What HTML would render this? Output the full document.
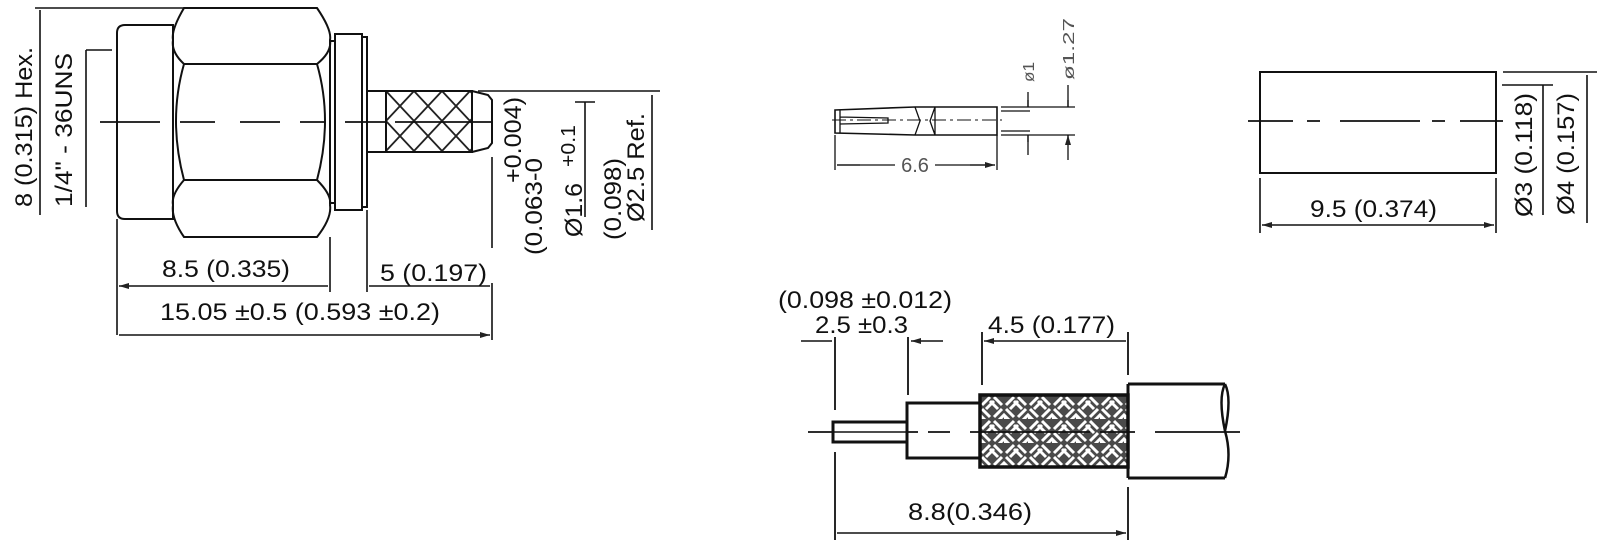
<!DOCTYPE html>
<html><head><meta charset="utf-8"><style>
html,body{margin:0;padding:0;background:#fff;}
svg{display:block;}
text{font-family:"Liberation Sans",sans-serif;fill:#111;}
</style></head><body>
<svg width="1600" height="552" viewBox="0 0 1600 552" xmlns="http://www.w3.org/2000/svg">
<defs>
<marker id="ar" viewBox="0 0 10 6" refX="10" refY="3" markerWidth="10" markerHeight="6" markerUnits="userSpaceOnUse" orient="auto-start-reverse"><path d="M0,0L10,3L0,6z" fill="#222"/></marker>
<pattern id="xh" width="28" height="30" patternUnits="userSpaceOnUse" x="386" y="91">
<path d="M0,0L28,30M28,0L0,30" stroke="#222" stroke-width="1.8"/>
</pattern>
<pattern id="bw" width="24" height="24" patternUnits="userSpaceOnUse" x="980" y="395">
<rect width="24" height="24" fill="#4a4a4a"/>
<path d="M2,10L10,2M6,14L14,6M14,22L22,14M18,26L26,18M-2,26L2,22" stroke="#fff" stroke-width="3"/>
<path d="M14,2L22,10M10,6L18,14M2,14L10,22M-2,18L6,26" stroke="#fff" stroke-width="3"/>
</pattern>
</defs>
<g fill="none" stroke="#111" stroke-width="2">
<path d="M125,25H173V219H125Q117,219 117,211V33Q117,25 125,25Z"/>
<path d="M184,8H317Q332,30 330,40Q332,52 317,64H184Q171,52 173,40Q171,30 184,8Z"/>
<path d="M184,64Q168,120 184,180H317Q333,120 317,64"/>
<path d="M184,180Q171,195 173,205Q171,218 184,237H317Q332,218 330,205Q332,195 317,180"/>
<rect x="330" y="41" width="5" height="162"/>
<rect x="335" y="34" width="27" height="176"/>
<path d="M362,37H367V207H362"/>
<path d="M367,91H472V152H367"/>
<rect x="386" y="91" width="86" height="61" fill="url(#xh)"/>
<path d="M472,91L488,95L492,100V143L488,148L472,152"/>
<path d="M100,122H160M180,122H215M240,122H280M300,122H325M345,122H385M395,122H492" stroke-width="1.8"/>
<path d="M35,8H184M40,10V215M86,50V207M86,50H112" stroke-width="1.6"/>
<path d="M478,91H660M492,157V248M575,102H595M585,102V217M652,95V230" stroke-width="1.6"/>
<path d="M117,219V335M330,237V292M367,210V292M492,283V340" stroke-width="1.6"/>
<path d="M119,286H328M369,286H490M119,335H490" stroke-width="1.4" marker-start="url(#ar)" marker-end="url(#ar)"/>
<path d="M835,110L915,107H997V135H915L835,133Z" stroke-width="1.6"/>
<path d="M840,110V133M840,117L888,118V123L840,124M915,107L920,121L915,135M935,107L930,121L935,135M935,107V135" stroke-width="1.3"/>
<path d="M832,120H1002" stroke-width="1" stroke-dasharray="14,4,3,4"/>
<path d="M1001,107H1075M1001,135H1075M1001,111H1030M1001,131H1030" stroke-width="1.3"/>
<path d="M1028,92V107M1028,135V155M1068,85V107M1068,135V160" stroke-width="1.3"/>
<path d="M1028,100V107M1028,142V135M1068,100V107M1068,142V135" stroke-width="1.3" marker-end="url(#ar)"/>
<path d="M835,135V170M997,135V170" stroke-width="1.3"/>
<path d="M837,165H895M935,165H995" stroke-width="1.3"/>
<path d="M860,165H837M970,165H995" stroke-width="1.3" marker-end="url(#ar)"/>
<rect x="1260" y="72" width="236" height="101"/>
<path d="M1248,121H1293M1307,121H1320M1340,121H1420M1432,121H1445M1460,121H1503" stroke-width="1.8"/>
<path d="M1260,178V233M1496,178V233M1502,85H1553M1543,85V215M1503,72H1597M1587,75V223" stroke-width="1.6"/>
<path d="M1262,225H1494" stroke-width="1.4" marker-start="url(#ar)" marker-end="url(#ar)"/>
<rect x="833" y="422" width="74" height="20" stroke-width="3"/>
<path d="M833,432H907" stroke-width="1.5"/>
<rect x="907" y="403" width="73" height="55" stroke-width="3"/>
<rect x="980" y="395" width="148" height="72" fill="url(#bw)" stroke-width="3.5"/>
<path d="M1128,384H1225M1128,478H1225M1128,384V478" stroke-width="3"/>
<path d="M1225,384Q1232,398 1225,431Q1218,398 1225,384M1225,431Q1232,455 1225,478" stroke-width="2.5"/>
<path d="M808,432H833M907,432H918M928,432H950M970,432H1090M1100,432H1135M1155,432H1240" stroke-width="1.8"/>
<path d="M835,337V410M908,337V395M835,452V540M982,332V385M1128,332V375M1128,487V540" stroke-width="1.8"/>
<path d="M801,341H832M943,341H911" stroke-width="1.4" marker-end="url(#ar)"/>
<path d="M984,341H1126M837,533H1126" stroke-width="1.4" marker-start="url(#ar)" marker-end="url(#ar)"/>
</g>
<g font-size="24">
<text x="162" y="277" textLength="128" lengthAdjust="spacingAndGlyphs">8.5 (0.335)</text>
<text x="380" y="281" textLength="107" lengthAdjust="spacingAndGlyphs">5 (0.197)</text>
<text x="160" y="320" textLength="280" lengthAdjust="spacingAndGlyphs">15.05 ±0.5 (0.593 ±0.2)</text>
<text transform="translate(32,207) rotate(-90)" textLength="160" lengthAdjust="spacingAndGlyphs">8 (0.315) Hex.</text>
<text transform="translate(72,207) rotate(-90)" textLength="154" lengthAdjust="spacingAndGlyphs">1/4" - 36UNS</text>
<text transform="translate(521,183) rotate(-90)" textLength="86" lengthAdjust="spacingAndGlyphs">+0.004)</text>
<text transform="translate(542,255) rotate(-90)" textLength="97" lengthAdjust="spacingAndGlyphs">(0.063-0</text>
<text transform="translate(582,237) rotate(-90)" textLength="54" lengthAdjust="spacingAndGlyphs">Ø1.6</text>
<text transform="translate(575,167) rotate(-90)" font-size="20" textLength="42" lengthAdjust="spacingAndGlyphs">+0.1</text>
<text transform="translate(621,240) rotate(-90)" textLength="82" lengthAdjust="spacingAndGlyphs">(0.098)</text>
<text transform="translate(644,222) rotate(-90)" textLength="109" lengthAdjust="spacingAndGlyphs">Ø2.5 Ref.</text>
<text x="1310" y="217" textLength="127" lengthAdjust="spacingAndGlyphs">9.5 (0.374)</text>
<text transform="translate(1532,217) rotate(-90)" textLength="124" lengthAdjust="spacingAndGlyphs">Ø3 (0.118)</text>
<text transform="translate(1574,215) rotate(-90)" textLength="122" lengthAdjust="spacingAndGlyphs">Ø4 (0.157)</text>
<text x="778" y="308" textLength="174" lengthAdjust="spacingAndGlyphs">(0.098 ±0.012)</text>
<text x="815" y="333" textLength="93" lengthAdjust="spacingAndGlyphs">2.5 ±0.3</text>
<text x="988" y="333" textLength="127" lengthAdjust="spacingAndGlyphs">4.5 (0.177)</text>
<text x="908" y="520" textLength="124" lengthAdjust="spacingAndGlyphs">8.8(0.346)</text>
</g>
<g font-size="16" style="fill:#555">
<text x="915" y="172" text-anchor="middle" font-size="20" style="fill:#555">6.6</text>
<text transform="translate(1034,82) rotate(-90)" style="fill:#555" textLength="20" lengthAdjust="spacingAndGlyphs">ø1</text>
<text transform="translate(1074,80) rotate(-90)" style="fill:#555" textLength="62" lengthAdjust="spacingAndGlyphs">ø1.27</text>
</g>
</svg>
</body></html>
